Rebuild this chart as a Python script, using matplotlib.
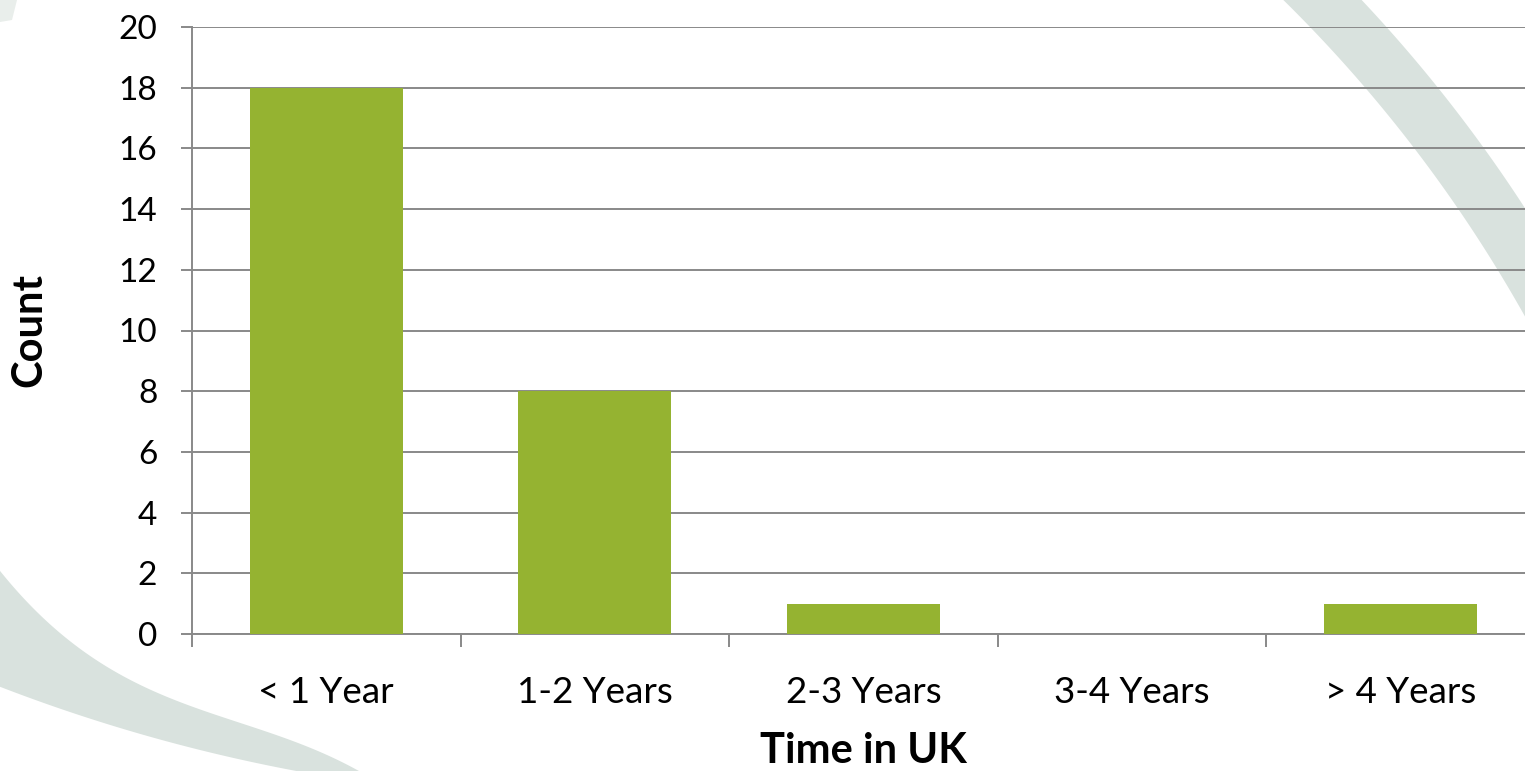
import numpy as np
import matplotlib
matplotlib.use("Agg")
import matplotlib.pyplot as plt
from matplotlib.patches import Polygon

# data
categories = ["< 1 Year", "1-2 Years", "2-3 Years", "3-4 Years", "> 4 Years"]
counts = [18, 8, 1, 0, 1]
y_ticks = [0, 2, 4, 6, 8, 10, 12, 14, 16, 18, 20]

bar_color = "#95B331"
grid_color = "#898989"
swoosh_color = "#D9E2DE"

plt.rcParams["font.family"] = ["Lato", "DejaVu Sans"]

W, H = 1525, 771
fig = plt.figure(figsize=(W / 100, H / 100), dpi=100)

# decorative swooshes behind the chart, in pixel coordinates
bg = fig.add_axes([0, 0, 1, 1], zorder=0)
bg.set_xlim(0, W)
bg.set_ylim(H, 0)
bg.axis("off")

# top-right ring segment
ys = np.linspace(-40, 420, 300)
cx, cy = 291.5, 1007.8
inner = np.column_stack([cx + np.sqrt(1414 ** 2 - (ys - cy) ** 2), ys])
outer = np.column_stack([cx + np.sqrt(1470 ** 2 - (ys - cy) ** 2), ys])
bg.add_patch(Polygon(np.vstack([inner, outer[::-1]]), closed=True,
                     facecolor=swoosh_color, lw=0))

# bottom-left tapered swoosh
edge_x = [0, 17, 50, 100, 150, 200, 250, 300, 360]
edge_y = [567, 594, 627, 663, 687, 707, 727, 747, 770]
coef = np.polyfit(edge_x, edge_y, 3)
xs = np.linspace(-15, 400, 200)
upper_edge = np.column_stack([xs, np.polyval(coef, xs)])
xs_back = xs[::-1]
lower_edge = np.column_stack([xs_back,
                              -889 + np.sqrt(1689 ** 2 - (xs_back - 608) ** 2)])
bg.add_patch(Polygon(np.vstack([upper_edge, lower_edge]), closed=True,
                     facecolor=swoosh_color, lw=0))
bg.add_patch(Polygon([(0, 0), (17, 0), (12, 20), (0, 22)], closed=True,
                     facecolor="#E9EEEB", lw=0))

# main chart
ax = fig.add_axes([192 / W, 137 / H, 1343 / W, 607 / H], zorder=1)
ax.set_facecolor("none")
x = np.arange(len(categories))
ax.bar(x, counts, width=0.57, color=bar_color, zorder=3)

ax.set_xlim(-0.5, len(categories) - 0.5)
ax.set_ylim(0, 20)
ax.set_yticks(y_ticks)
ax.set_xticks(x)
ax.set_xticklabels(categories)
ax.set_xticks(np.arange(-0.5, len(categories), 1), minor=True)

ax.yaxis.grid(True, color=grid_color, lw=1.4)
ax.set_axisbelow(True)
for side in ["top", "right"]:
    ax.spines[side].set_visible(False)
for side in ["left", "bottom"]:
    ax.spines[side].set_color(grid_color)
    ax.spines[side].set_linewidth(1.4)

ax.tick_params(axis="y", length=8, width=1.4, color=grid_color, pad=17,
               labelsize=24)
ax.tick_params(axis="x", which="major", length=0, pad=30, labelsize=26.5)
ax.tick_params(axis="x", which="minor", length=9, width=1.4, color=grid_color)

fig.text(29 / W, 1 - 330 / H, "Count", rotation=90, ha="center", va="center",
         fontsize=30, fontweight="bold")
fig.text(863 / W, 1 - 751 / H, "Time in UK", ha="center", va="center",
         fontsize=30, fontweight="bold")

fig.savefig("out.png", dpi=100)
